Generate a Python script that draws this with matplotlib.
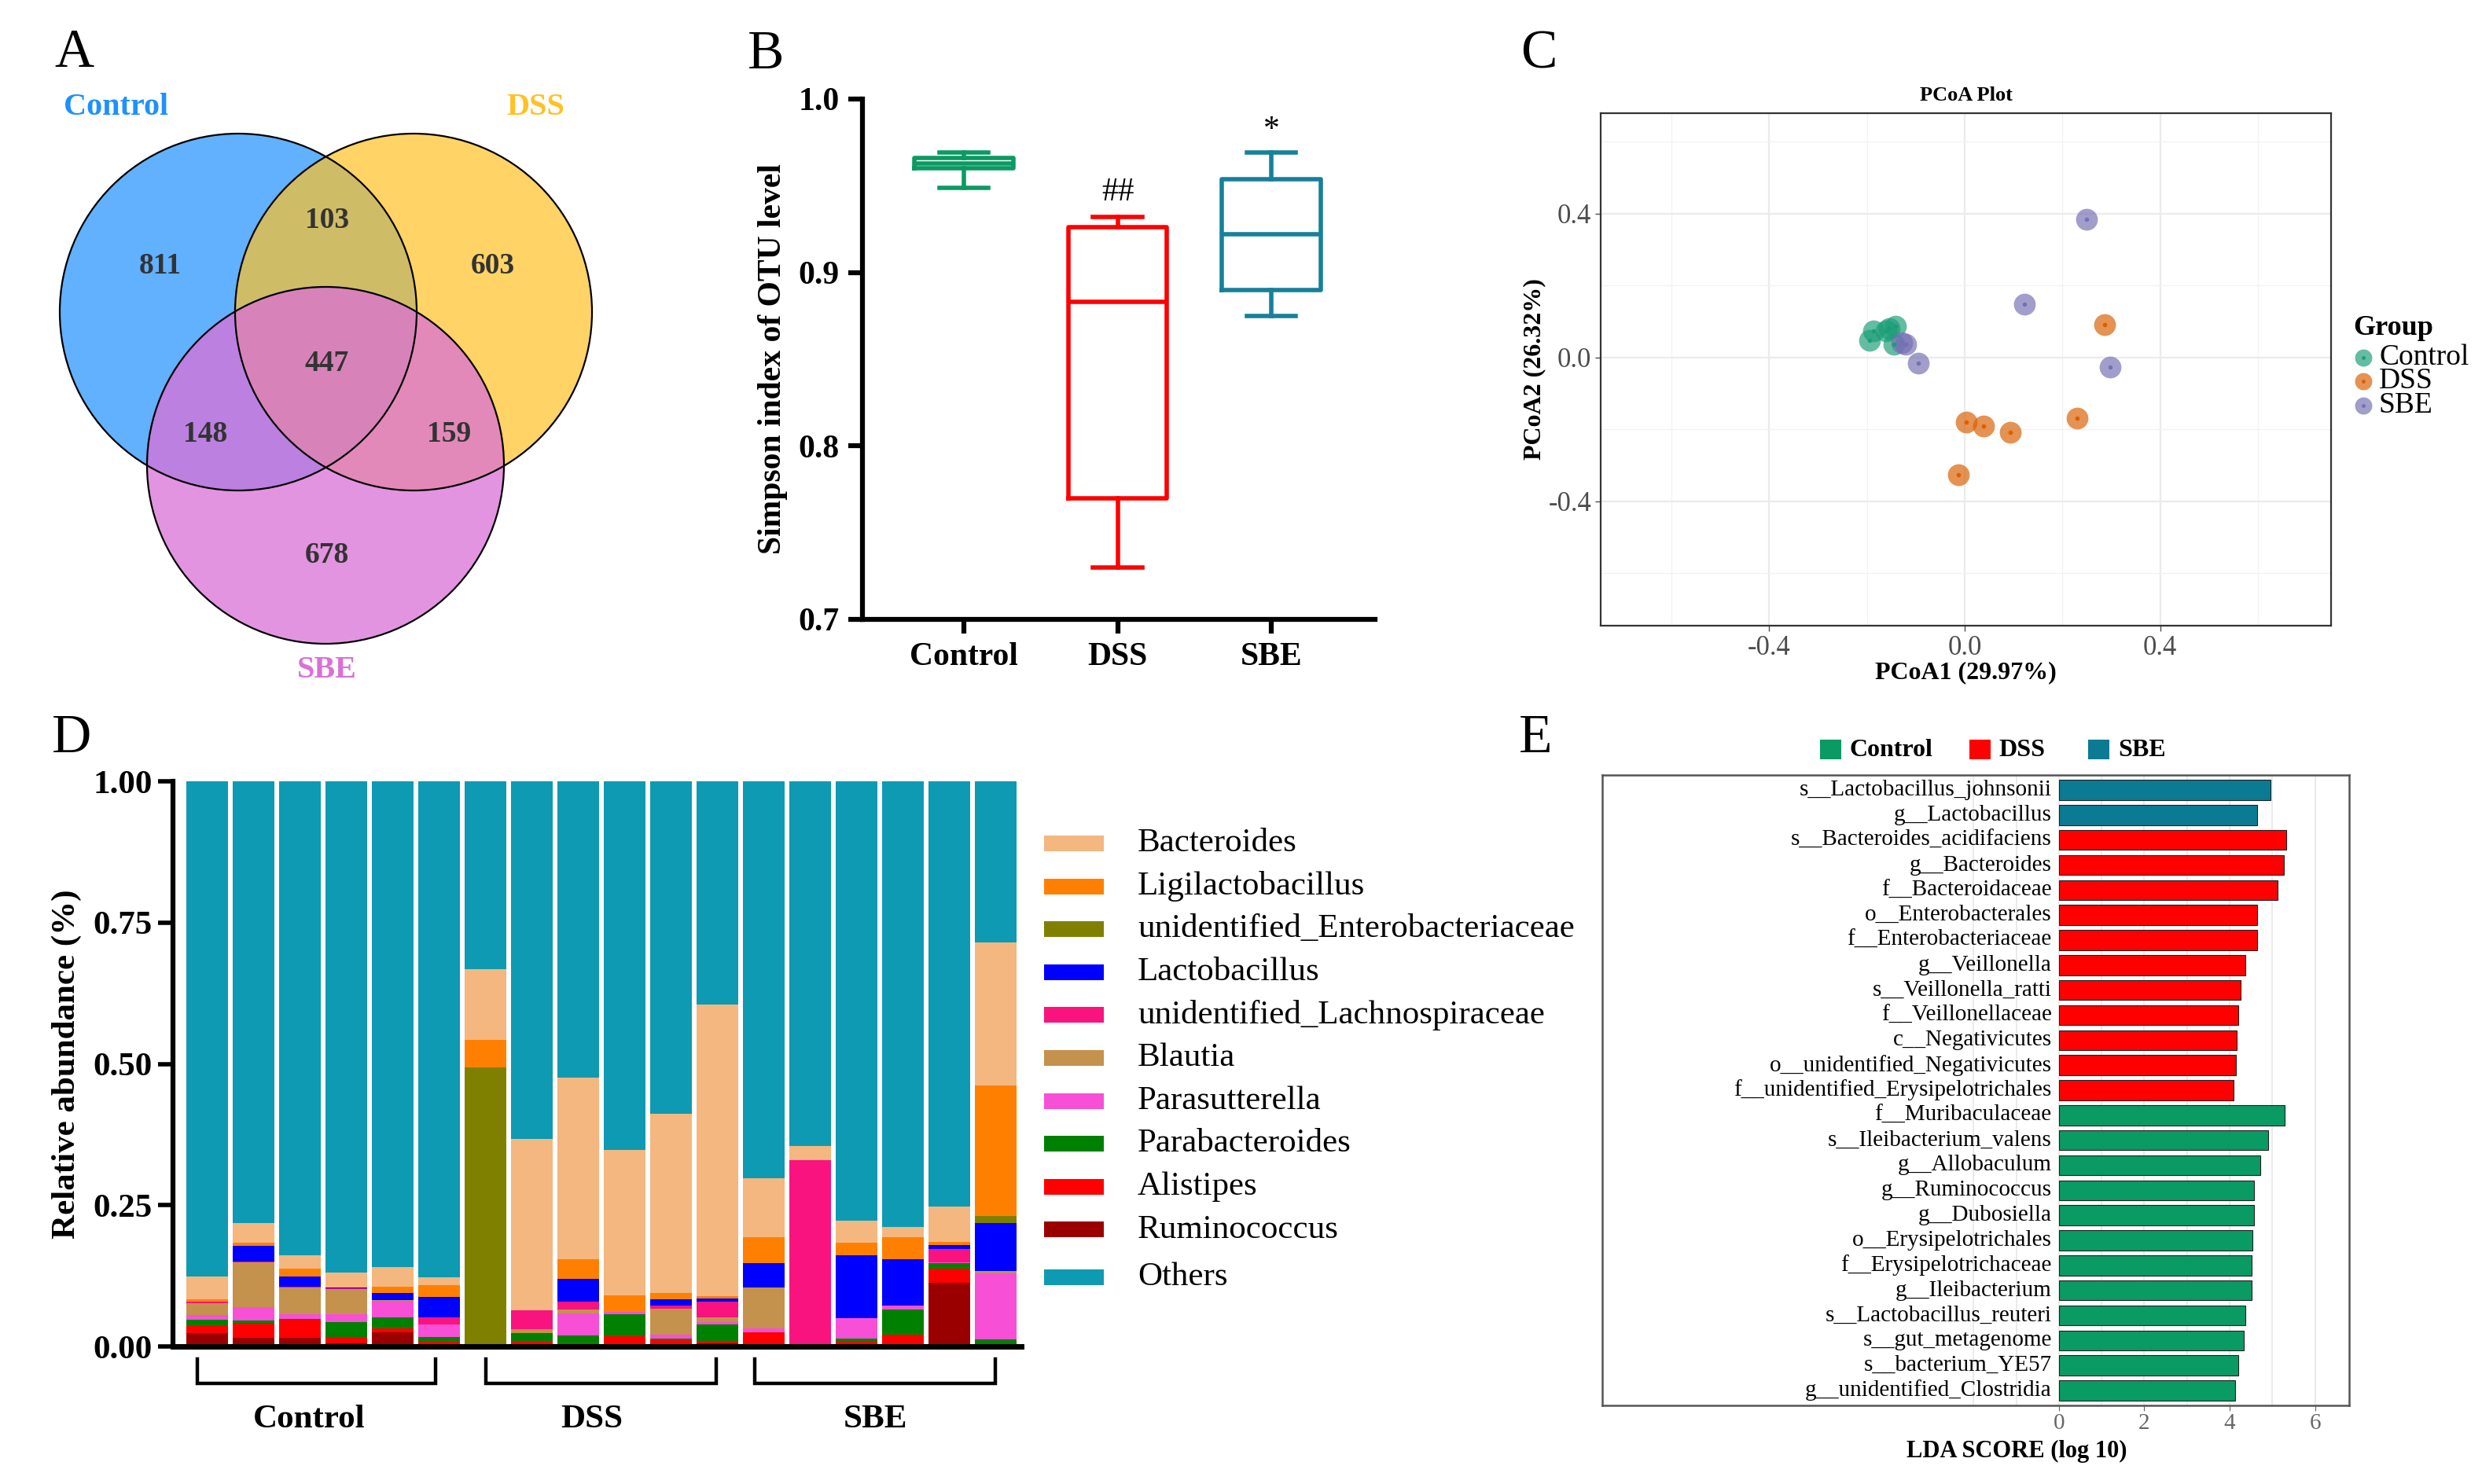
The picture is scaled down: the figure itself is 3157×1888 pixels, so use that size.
import matplotlib
matplotlib.use('Agg')
import matplotlib.pyplot as plt
from matplotlib.patches import Circle, Rectangle
import numpy as np

plt.rcParams['font.family'] = ['Liberation Serif', 'DejaVu Serif']

W, H = 3157, 1888

# ---------------- data ----------------
# A: Venn of OTUs
venn_sets = ['Control', 'DSS', 'SBE']
venn_colors = ['#1E90FF', '#FFC125', '#DA70D6']
# only Control, only DSS, only SBE, C&D, C&S, D&S, all three
venn_counts = [811, 603, 678, 103, 148, 159, 447]

# B: Simpson index box stats
simpson_groups = ['Control', 'DSS', 'SBE']
simpson_whislo = [0.949, 0.730, 0.875]
simpson_q1 = [0.960, 0.770, 0.890]
simpson_med = [0.963, 0.883, 0.922]
simpson_q3 = [0.966, 0.926, 0.954]
simpson_whishi = [0.969, 0.932, 0.969]
simpson_marks = ['', '##', '*']
simpson_mark_y = [0.0, 0.946, 0.982]
simpson_colors = ['#0B9A63', '#FF0000', '#17809A']

# C: PCoA coordinates
pcoa_groups = ['Control', 'DSS', 'SBE']
ctrl_x = [-0.187, -0.194, -0.161, -0.155, -0.141, -0.144]
ctrl_y = [0.074, 0.047, 0.074, 0.080, 0.086, 0.037]
dss_x = [0.286, 0.230, 0.004, 0.039, 0.093, -0.012]
dss_y = [0.092, -0.169, -0.180, -0.190, -0.208, -0.327]
sbe_x = [0.249, 0.122, 0.298, -0.095, -0.128, -0.121]
sbe_y = [0.385, 0.147, -0.028, -0.016, 0.040, 0.037]
pcoa_colors = ['#1B9E77', '#D95F02', '#7570B3']

# D: relative abundance, 18 samples (6 Control, 6 DSS, 6 SBE)
genus_names = ['Bacteroides', 'Ligilactobacillus', 'unidentified_Enterobacteriaceae',
               'Lactobacillus', 'unidentified_Lachnospiraceae', 'Blautia',
               'Parasutterella', 'Parabacteroides', 'Alistipes', 'Ruminococcus', 'Others']
genus_colors = ['#F3B77F', '#FF8000', '#808000', '#0000FF', '#F9137F', '#C4924C',
                '#F84FD7', '#008000', '#FF0000', '#9B0000', '#0E9AB2']
bacteroides = [0.040, 0.036, 0.025, 0.026, 0.034, 0.013, 0.125, 0.303, 0.322, 0.257, 0.318, 0.516,
               0.105, 0.026, 0.039, 0.018, 0.062, 0.253]
ligilactobacillus = [0.005, 0.005, 0.013, 0.001, 0.012, 0.021, 0.048, 0.0, 0.035, 0.028, 0.011, 0.004,
                     0.045, 0.0, 0.022, 0.040, 0.006, 0.231]
enterobacteriaceae = [0, 0, 0, 0, 0, 0, 0.494, 0, 0, 0, 0, 0,
                      0, 0, 0, 0, 0, 0.012]
lactobacillus = [0.0, 0.028, 0.018, 0.001, 0.012, 0.036, 0.0, 0.0, 0.040, 0.0, 0.011, 0.006,
                 0.044, 0.0, 0.111, 0.081, 0.007, 0.086]
lachnospiraceae = [0.002, 0.001, 0.001, 0.001, 0.0, 0.013, 0.0, 0.033, 0.014, 0.0, 0.005, 0.028,
                   0.0, 0.329, 0.0, 0.0, 0.023, 0.0]
blautia = [0.021, 0.080, 0.048, 0.045, 0.001, 0.0, 0.0, 0.007, 0.007, 0.002, 0.046, 0.008,
           0.072, 0.0, 0.0, 0.0, 0.0, 0.004]
parasutterella = [0.009, 0.023, 0.008, 0.014, 0.029, 0.022, 0.0, 0.0, 0.038, 0.004, 0.007, 0.004,
                  0.007, 0.0, 0.036, 0.008, 0.002, 0.117]
parabacteroides = [0.009, 0.006, 0.002, 0.027, 0.020, 0.008, 0.0, 0.014, 0.014, 0.039, 0.003, 0.031,
                   0.0, 0.0, 0.006, 0.044, 0.009, 0.012]
alistipes = [0.015, 0.025, 0.032, 0.011, 0.007, 0.007, 0.0, 0.010, 0.006, 0.016, 0.010, 0.002,
             0.025, 0.0, 0.008, 0.021, 0.026, 0.0]
ruminococcus = [0.023, 0.015, 0.015, 0.005, 0.025, 0.002, 0.0, 0.0, 0.0, 0.002, 0.001, 0.006,
                0.0, 0.0, 0.0, 0.0, 0.112, 0.0]
sample_groups = ['Control', 'DSS', 'SBE']

# E: LEfSe LDA scores
lda_names = ['s__Lactobacillus_johnsonii', 'g__Lactobacillus', 's__Bacteroides_acidifaciens',
             'g__Bacteroides', 'f__Bacteroidaceae', 'o__Enterobacterales', 'f__Enterobacteriaceae',
             'g__Veillonella', 's__Veillonella_ratti', 'f__Veillonellaceae', 'c__Negativicutes',
             'o__unidentified_Negativicutes', 'f__unidentified_Erysipelotrichales',
             'f__Muribaculaceae', 's__Ileibacterium_valens', 'g__Allobaculum', 'g__Ruminococcus',
             'g__Dubosiella', 'o__Erysipelotrichales', 'f__Erysipelotrichaceae', 'g__Ileibacterium',
             's__Lactobacillus_reuteri', 's__gut_metagenome', 's__bacterium_YE57',
             'g__unidentified_Clostridia']
lda_scores = [4.96, 4.65, 5.32, 5.28, 5.12, 4.65, 4.65, 4.37, 4.26, 4.20, 4.17, 4.14, 4.10,
              5.29, 4.91, 4.72, 4.57, 4.57, 4.54, 4.51, 4.51, 4.37, 4.34, 4.20, 4.13]
lda_groups = ['SBE'] * 2 + ['DSS'] * 11 + ['Control'] * 12
lda_palette = {'Control': '#0A9A63', 'DSS': '#FF0000', 'SBE': '#0A7B93'}


def rect(l, t, r, b):
    return [l / W, 1 - b / H, (r - l) / W, (b - t) / H]


fig = plt.figure(figsize=(W / 100, H / 100), dpi=100)
fig.patch.set_facecolor('white')

# overlay in pixel coords for venn, legends and panel letters
ov = fig.add_axes([0, 0, 1, 1])
ov.set_xlim(0, W)
ov.set_ylim(H, 0)
ov.axis('off')

for lab, (x, y) in zip('ABCDE', [(94, 68), (974, 70), (1957, 70), (91, 940), (1953, 940)]):
    ov.text(x, y, lab, fontsize=50, ha='center', va='center')

# ---------------- A ----------------
centers = [(303, 397), (526, 397), (414, 592)]
alphas = [0.7, 0.7, 0.75]
for (cx, cy), c, a in zip(centers, venn_colors, alphas):
    ov.add_patch(Circle((cx, cy), 227, facecolor=c, alpha=a, edgecolor='none'))
for cx, cy in centers:
    ov.add_patch(Circle((cx, cy), 227, facecolor='none', edgecolor='black', lw=1.6))
region_pos = [(204, 339), (627, 339), (416, 706), (416, 281), (261, 553), (571, 553), (416, 462)]
for n, (x, y) in zip(venn_counts, region_pos):
    ov.text(x, y, str(n), fontsize=27, fontweight='bold', color='#333333', ha='center', va='center')
for name, c, (x, y) in zip(venn_sets, venn_colors, [(148, 137), (681, 137), (416, 853)]):
    ov.text(x, y, name, fontsize=29, fontweight='bold', color=c, ha='center', va='center')

# ---------------- B ----------------
axb = fig.add_axes(rect(1097, 126, 1749, 788))
for i in range(3):
    c = simpson_colors[i]
    st = [dict(med=simpson_med[i], q1=simpson_q1[i], q3=simpson_q3[i],
               whislo=simpson_whislo[i], whishi=simpson_whishi[i], fliers=[])]
    lp = dict(color=c, lw=4)
    axb.bxp(st, positions=[i + 1], widths=0.64, capwidths=0.32, showfliers=False,
            boxprops=lp, whiskerprops=lp, capprops=lp, medianprops=lp, manage_ticks=False)
    if simpson_marks[i]:
        axb.text(i + 1, simpson_mark_y[i], simpson_marks[i], ha='center', va='center', fontsize=30)
axb.set_xlim(0.34, 3.675)
axb.set_ylim(0.7, 1.0)
axb.set_xticks([1, 2, 3])
axb.set_xticklabels(simpson_groups, fontsize=30, fontweight='bold')
axb.set_yticks([0.7, 0.8, 0.9, 1.0])
axb.set_yticklabels(['0.7', '0.8', '0.9', '1.0'], fontsize=30, fontweight='bold')
for s in ['top', 'right']:
    axb.spines[s].set_visible(False)
for s in ['left', 'bottom']:
    axb.spines[s].set_linewidth(4.5)
axb.tick_params(width=4.5, length=13, pad=8)
axb.set_ylabel('Simpson index of OTU level', fontsize=30, fontweight='bold', labelpad=10)

# ---------------- C ----------------
axc = fig.add_axes(rect(2036, 144, 2965, 796))
for xs, ys, c in zip([ctrl_x, dss_x, sbe_x], [ctrl_y, dss_y, sbe_y], pcoa_colors):
    axc.scatter(xs, ys, s=400, color=c, alpha=0.68, lw=0, zorder=3)
    axc.scatter(xs, ys, s=16, color=c, lw=0, zorder=4)
axc.set_xlim(-0.745, 0.75)
axc.set_ylim(-0.746, 0.679)
axc.set_xticks([-0.4, 0.0, 0.4])
axc.set_yticks([-0.4, 0.0, 0.4])
axc.set_xticklabels(['-0.4', '0.0', '0.4'])
axc.set_yticklabels(['-0.4', '0.0', '0.4'])
axc.set_xticks([-0.6, -0.2, 0.2, 0.6], minor=True)
axc.set_yticks([-0.6, -0.2, 0.2, 0.6], minor=True)
axc.grid(True, which='major', color='#EBEBEB', lw=1.6)
axc.grid(True, which='minor', color='#F2F2F2', lw=0.9)
axc.set_axisbelow(True)
axc.tick_params(which='major', labelsize=25, labelcolor='#4D4D4D', color='#4D4D4D', length=5, width=1)
axc.tick_params(which='minor', length=0)
for s in axc.spines.values():
    s.set_color('#333333')
    s.set_linewidth(1.6)
axc.set_xlabel('PCoA1 (29.97%)', fontsize=23, fontweight='bold', labelpad=0)
axc.set_ylabel('PCoA2 (26.32%)', fontsize=23, fontweight='bold', labelpad=2)
axc.text(0.5, 1.034, 'PCoA Plot', transform=axc.transAxes, ha='center', va='center',
         fontsize=19, fontweight='bold')

# legend for C (drawn in pixel coords)
ov.text(2993, 418, 'Group', fontsize=26, fontweight='bold', ha='left', va='center')
for g, c, y in zip(pcoa_groups, pcoa_colors, [455, 485, 516]):
    ov.scatter([3006], [y], s=250, color=c, alpha=0.68, lw=0)
    ov.scatter([3006], [y], s=12, color=c, lw=0)
    ov.text(3026, y, g, fontsize=27, ha='left', va='center')

# ---------------- D ----------------
axd = fig.add_axes(rect(220, 994, 1299, 1713))
stack = [ruminococcus, alistipes, parabacteroides, parasutterella, blautia, lachnospiraceae,
         lactobacillus, enterobacteriaceae, ligilactobacillus, bacteroides]
stack_colors = genus_colors[9::-1]
x = np.arange(18)
bottom = np.zeros(18)
for vals, c in zip(stack, stack_colors):
    axd.bar(x, vals, bottom=bottom, width=0.9, color=c, lw=0)
    bottom += np.array(vals)
axd.bar(x, 1 - bottom, bottom=bottom, width=0.9, color=genus_colors[10], lw=0)
axd.set_xlim(-0.74, 17.55)
axd.set_ylim(0, 1)
axd.set_yticks([0, 0.25, 0.5, 0.75, 1.0])
axd.set_yticklabels(['0.00', '0.25', '0.50', '0.75', '1.00'], fontsize=31, fontweight='bold')
axd.set_xticks([])
for s in ['top', 'right']:
    axd.spines[s].set_visible(False)
axd.spines['left'].set_linewidth(4.5)
axd.spines['bottom'].set_linewidth(5)
axd.tick_params(axis='y', width=4, length=14, pad=5)
axd.set_ylabel('Relative abundance (%)', fontsize=31, fontweight='bold', labelpad=10)
brackets = [(-0.22, 4.92), (6.0, 10.97), (11.8, 16.99)]
label_x = [2.2, 8.3, 14.4]
for (a, b), g, lx in zip(brackets, sample_groups, label_x):
    axd.plot([a, a, b, b], [-0.022, -0.066, -0.066, -0.022], color='black', lw=3.2,
             clip_on=False, solid_joinstyle='miter')
    axd.text(lx, -0.13, g, ha='center', va='center', fontsize=31, fontweight='bold')

# legend for D
for i, (name, c) in enumerate(zip(genus_names, genus_colors)):
    y = 1073 + 54.6 * i + (6 if i == 10 else 0)
    ov.add_patch(Rectangle((1328, y - 10), 76, 20, facecolor=c, edgecolor='none'))
    ov.text(1447, y, name, fontsize=31, va='center', ha='left')

# ---------------- E ----------------
axe = fig.add_axes(rect(2038, 986, 2988, 1788))
ypos = np.arange(len(lda_names))
for v in [-2, -1, 0, 1, 2, 3, 4, 5, 6]:
    axe.axvline(v, color='#E6E6E6', lw=1.2, zorder=0)
axe.barh(ypos, lda_scores, height=0.8, color=[lda_palette[g] for g in lda_groups],
         edgecolor='#222222', lw=0.8, zorder=2)
for yy, name in zip(ypos, lda_names):
    axe.text(-0.17, yy, name, ha='right', va='center', fontsize=21)
axe.set_xlim(-10.7, 6.8)
axe.set_ylim(24.6, -0.6)
axe.set_yticks([])
axe.set_xticks([0, 2, 4, 6])
axe.tick_params(axis='x', labelsize=21, labelcolor='#666666', color='#666666', length=5, pad=2)
for s in axe.spines.values():
    s.set_color('#555555')
    s.set_linewidth(1.8)
ov.text(2565, 1846, 'LDA SCORE (log 10)', fontsize=22, fontweight='bold', ha='center', va='center')
for g, sx, tx in zip(['Control', 'DSS', 'SBE'], [2315, 2505, 2656], [2352, 2542, 2694]):
    ov.add_patch(Rectangle((sx, 941), 27, 25, facecolor=lda_palette[g], edgecolor='none'))
    ov.text(tx, 954, g, fontsize=23, fontweight='bold', va='center', ha='left')

fig.savefig('out.png', dpi=100)
